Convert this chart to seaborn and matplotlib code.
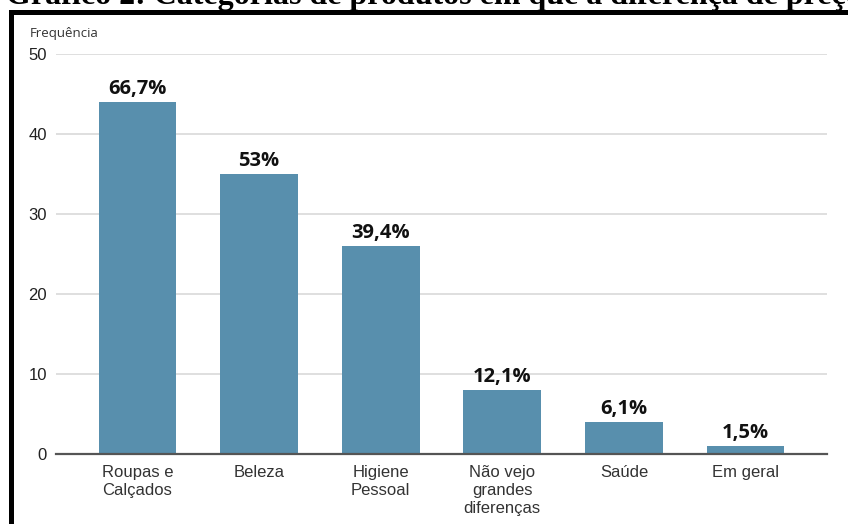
import matplotlib
matplotlib.use("Agg")
import matplotlib.pyplot as plt
import seaborn as sns
import pandas as pd
from matplotlib.patches import Rectangle

categories = ["Roupas e\nCalçados", "Beleza", "Higiene\nPessoal",
              "Não vejo\ngrandes\ndiferenças", "Saúde", "Em geral"]
frequencies = [44, 35, 26, 8, 4, 1]
percent_labels = ["66,7%", "53%", "39,4%", "12,1%", "6,1%", "1,5%"]
y_ticks = [0, 10, 20, 30, 40, 50]
title_text = "Gráfico 2: Categorias de produtos em que a diferença de preço"
y_label = "Frequência"

sns.set_theme(style="white")
plt.rcParams['font.family'] = ['Liberation Sans', 'DejaVu Sans']

W, H = 848, 524
fig = plt.figure(figsize=(W / 100, H / 100), dpi=100)
fig.patch.set_facecolor("white")

left, right, bottom, top = 56, 827, 454, 54
ax = fig.add_axes([left / W, 1 - bottom / H, (right - left) / W, (bottom - top) / H])

df = pd.DataFrame({"cat": categories, "freq": frequencies})
sns.barplot(data=df, x="cat", y="freq", color="#588fad", saturation=1,
            width=0.64, ax=ax, edgecolor="none")

ax.set_xlim(-0.67, len(categories) - 0.33)
ax.set_ylim(0, 50)
ax.set_yticks(y_ticks)
ax.set_yticklabels([str(t) for t in y_ticks])
ax.set_xlabel("")
ax.set_ylabel("")
for s in ["top", "right", "left"]:
    ax.spines[s].set_visible(False)
ax.spines["bottom"].set_color("#555555")
ax.spines["bottom"].set_linewidth(1.6)
ax.yaxis.grid(True, color="#d9d9d9", linewidth=1.2)
ax.set_axisbelow(True)
ax.tick_params(axis="y", length=0, pad=6.5, labelsize=12, labelcolor="#222222")
ax.tick_params(axis="x", length=0, pad=8, labelsize=12, labelcolor="#333333")
for lab in ax.get_xticklabels():
    lab.set_linespacing(1.25)

ax.bar_label(ax.containers[0], labels=percent_labels, padding=2,
             fontsize=14.5, fontweight="bold", color="#111111",
             family=["Open Sans", "DejaVu Sans"])

fig.text(30 / W, 1 - 33 / H, y_label, fontsize=9.5, color="#333333",
         family=["Open Sans", "DejaVu Sans"], va="center", ha="left")

# Frame
fig.add_artist(Rectangle((10.5 / W, -0.1), 1.2, 1 - 12 / H + 0.1,
                         transform=fig.transFigure, fill=False,
                         edgecolor="black", linewidth=3.6))

fig.text(6 / W, 1 - 4 / H, title_text, fontsize=23, fontweight="bold",
         family=["Liberation Serif", "DejaVu Serif"], va="baseline", ha="left",
         color="black")

fig.savefig("out.png", dpi=100)
